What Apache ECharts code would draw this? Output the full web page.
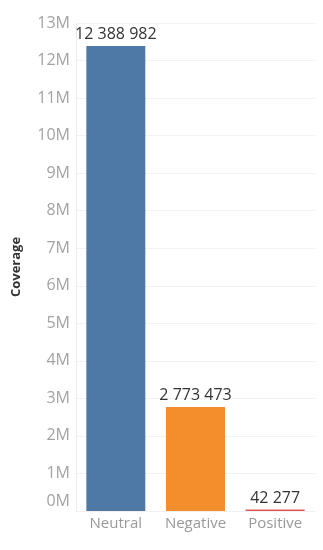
<!DOCTYPE html>
<html><head><meta charset="utf-8">
<script src="https://cdn.jsdelivr.net/npm/echarts@6/dist/echarts.min.js"></script>
<style>html,body{margin:0;padding:0;background:#fff}#c{width:323px;height:550px}</style>
</head><body><div id="c"></div>
<script>
var categories = ['Neutral', 'Negative', 'Positive'];
var coverage = [12388982, 2773473, 42277];
var barColors = ['#4e79a7', '#f28e2b', '#e15759'];
var yTicks = [0,1,2,3,4,5,6,7,8,9,10,11,12,13];

function fmt(v){ return String(v).replace(/\B(?=(\d{3})+(?!\d))/g, ' '); }

var chart = echarts.init(document.getElementById('c'));
chart.setOption({
  animation: false,
  grid: {left: 76, right: 8, top: 23, bottom: 39},
  xAxis: {
    type: 'category', data: categories,
    axisLine: {show: true, lineStyle: {color: '#f0f0f0'}},
    axisTick: {show: false},
    axisLabel: {color: '#999', fontSize: 15, fontFamily: 'Open Sans', margin: 5}
  },
  yAxis: {
    type: 'value', min: 0, max: yTicks[yTicks.length-1]*1e6, interval: 1e6,
    name: 'Coverage', nameLocation: 'middle', nameGap: 53, nameRotate: 90,
    nameTextStyle: {color: '#333', fontSize: 13, fontWeight: 'bold', fontFamily: 'Open Sans'},
    axisLine: {show: true, lineStyle: {color: '#ececec'}},
    axisTick: {show: false},
    splitLine: {lineStyle: {color: '#f2f2f2'}},
    axisLabel: {
      color: '#a3a3a3', fontSize: 16, fontFamily: 'Open Sans', margin: 6,
      formatter: function(v){ var s = Math.round(v/1e6) + 'M'; return v === 0 ? '{z|' + s + '}' : s; },
      rich: {z: {color: '#a3a3a3', fontSize: 16, fontFamily: 'Open Sans', padding: [0,0,20,0]}}
    }
  },
  series: [{
    type: 'bar', barWidth: '74%',
    data: coverage.map(function(v,i){ return {value: v, itemStyle: {color: barColors[i]}}; }),
    label: {show: true, position: 'top', distance: 3, color: '#333', fontSize: 16, fontFamily: 'Open Sans',
      formatter: function(p){ return fmt(p.value); }}
  }]
});
</script></body></html>
